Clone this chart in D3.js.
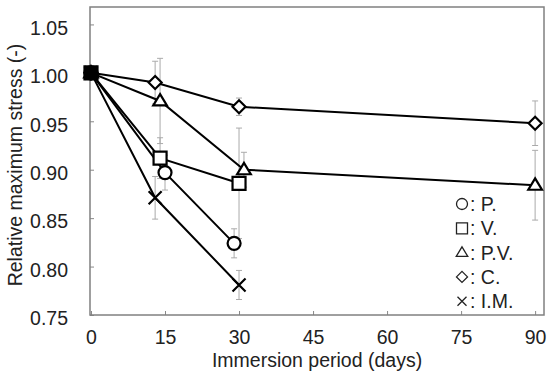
<!DOCTYPE html>
<html>
<head>
<meta charset="utf-8">
<script src="https://cdn.jsdelivr.net/npm/d3@7"></script>
<style>
  body { margin: 0; background: #fff; }
  text { font-family: "Liberation Sans", Arial, sans-serif; fill: #222; }
</style>
</head>
<body>
<svg id="chart" width="550" height="383"></svg>
<script>
// tick labels
var xTicks = [0, 15, 30, 45, 60, 75, 90];
var yTicks = [0.75, 0.80, 0.85, 0.90, 0.95, 1.00, 1.05];

// series (days are offset a little in the original, read as plotted)
var pDays = [0, 15, 29];
var pVals = [1.000, 0.897, 0.824];
var pErr  = [0, 0.018, 0.015];

var vDays = [0, 14, 30];
var vVals = [1.000, 0.912, 0.886];
var vErr  = [0, 0.021, 0.057];

var pvDays = [0, 14, 31, 90];
var pvVals = [1.000, 0.971, 0.900, 0.884];
var pvErr  = [0, 0.044, 0.018, 0.036];

var cDays = [0, 13, 30, 90];
var cVals = [1.000, 0.990, 0.965, 0.948];
var cErr  = [0, 0.022, 0.009, 0.023];

var imDays = [0, 13, 30];
var imVals = [1.000, 0.871, 0.781];
var imErr  = [0, 0.022, 0.015];

var names = ["P.", "V.", "P.V.", "C.", "I.M."];
var shapes = ["circle", "square", "triangle", "diamond", "cross"];

var series = [
  {name: names[0], shape: shapes[0], days: pDays, vals: pVals, err: pErr},
  {name: names[1], shape: shapes[1], days: vDays, vals: vVals, err: vErr},
  {name: names[2], shape: shapes[2], days: pvDays, vals: pvVals, err: pvErr},
  {name: names[3], shape: shapes[3], days: cDays, vals: cVals, err: cErr},
  {name: names[4], shape: shapes[4], days: imDays, vals: imVals, err: imErr}
];

var svg = d3.select("#chart");
var plotLeft = 90, plotRight = 544, plotTop = 7, plotBottom = 315;
var fontSize = "19.5px";

var x = d3.scaleLinear().domain([-0.2, 91.8]).range([plotLeft, plotRight]);
var y = d3.scaleLinear().domain([0.75, 1.068]).range([plotBottom, plotTop]);

// marker paths, centred on 0,0
function markerPath(shape, s) {
  var h = s / 2;
  if (shape == "circle") {
    return "M" + h + ",0A" + h + "," + h + " 0 1,1 " + (-h) + ",0A" + h + "," + h + " 0 1,1 " + h + ",0Z";
  }
  if (shape == "square") {
    return "M" + (-h) + "," + (-h) + "H" + h + "V" + h + "H" + (-h) + "Z";
  }
  if (shape == "triangle") {
    var th = s * 0.87;
    return "M0," + (-th * 0.6) + "L" + (h * 1.05) + "," + (th * 0.4) + "L" + (-h * 1.05) + "," + (th * 0.4) + "Z";
  }
  if (shape == "diamond") {
    return "M0," + (-h) + "L" + h + ",0L0," + h + "L" + (-h) + ",0Z";
  }
  // cross
  return "M" + (-h) + "," + (-h) + "L" + h + "," + h + "M" + h + "," + (-h) + "L" + (-h) + "," + h;
}

// axes (inside ticks)
var xAxis = d3.axisBottom(x).tickValues(xTicks).tickSize(-4).tickPadding(15)
  .tickFormat(d3.format("d"));
var gx = svg.append("g").attr("transform", "translate(0," + plotBottom + ")").call(xAxis);

var yAxis = d3.axisLeft(y).tickValues(yTicks).tickSize(-4).tickPadding(22)
  .tickFormat(d3.format(".2f"));
var gy = svg.append("g").attr("transform", "translate(" + plotLeft + ",0)").call(yAxis);

[gx, gy].forEach(function(g) {
  g.select(".domain").remove();
  g.selectAll(".tick line").attr("stroke", "#888");
  g.selectAll(".tick text")
    .style("font-family", "'Liberation Sans', Arial, sans-serif")
    .style("font-size", fontSize)
    .attr("fill", "#222");
});
gy.selectAll(".tick text").attr("dy", "0.5em");

// frame
svg.append("rect")
  .attr("x", plotLeft).attr("y", plotTop)
  .attr("width", plotRight - plotLeft).attr("height", plotBottom - plotTop)
  .attr("fill", "none").attr("stroke", "#808080").attr("stroke-width", 1.5);

// error bars
var errG = svg.append("g").attr("stroke", "#aaa").attr("stroke-width", 1);
series.forEach(function(s) {
  s.days.forEach(function(d, i) {
    if (!s.err[i]) return;
    var cx = x(d), y1 = y(s.vals[i] + s.err[i]), y2 = y(s.vals[i] - s.err[i]);
    errG.append("line").attr("x1", cx).attr("x2", cx).attr("y1", y1).attr("y2", y2);
    errG.append("line").attr("x1", cx - 3).attr("x2", cx + 3).attr("y1", y1).attr("y2", y1);
    errG.append("line").attr("x1", cx - 3).attr("x2", cx + 3).attr("y1", y2).attr("y2", y2);
  });
});

// lines
var line = d3.line().x(function(d) { return x(d[0]); }).y(function(d) { return y(d[1]); });
series.forEach(function(s) {
  svg.append("path")
    .datum(d3.zip(s.days, s.vals))
    .attr("d", line)
    .attr("fill", "none")
    .attr("stroke", "#000")
    .attr("stroke-width", 2);
});

// markers; the start point, where all five overlap, shows as a solid block
series.forEach(function(s) {
  svg.append("g").selectAll("path")
    .data(d3.zip(s.days, s.vals))
    .join("path")
    .attr("transform", function(d) { return "translate(" + x(d[0]) + "," + y(d[1]) + ")"; })
    .attr("d", markerPath(s.shape, 13))
    .attr("fill", function(d) {
      if (s.shape == "cross") return "none";
      return d[0] == 0 ? "#000" : "#fff";
    })
    .attr("stroke", "#000")
    .attr("stroke-width", 2.2);
});

// legend
var legend = svg.append("g");
series.forEach(function(s, i) {
  var ly = 204 + i * 24.3;
  legend.append("path")
    .attr("transform", "translate(462," + ly + ")")
    .attr("d", markerPath(s.shape, s.shape == "cross" ? 9 : 11))
    .attr("fill", "none")
    .attr("stroke", "#222")
    .attr("stroke-width", 1.3);
  legend.append("text")
    .attr("x", 470).attr("y", ly)
    .attr("dy", "0.36em")
    .style("font-size", fontSize)
    .text(": " + s.name);
});

// axis titles
svg.append("text")
  .attr("x", (x(0) + x(90)) / 2 + 4).attr("y", 367)
  .attr("text-anchor", "middle")
  .style("font-size", fontSize)
  .text("Immersion period (days)");

svg.append("text")
  .attr("transform", "translate(22,165) rotate(-90)")
  .attr("text-anchor", "middle")
  .style("font-size", fontSize)
  .text("Relative maximum stress (-)");
</script>
</body>
</html>
